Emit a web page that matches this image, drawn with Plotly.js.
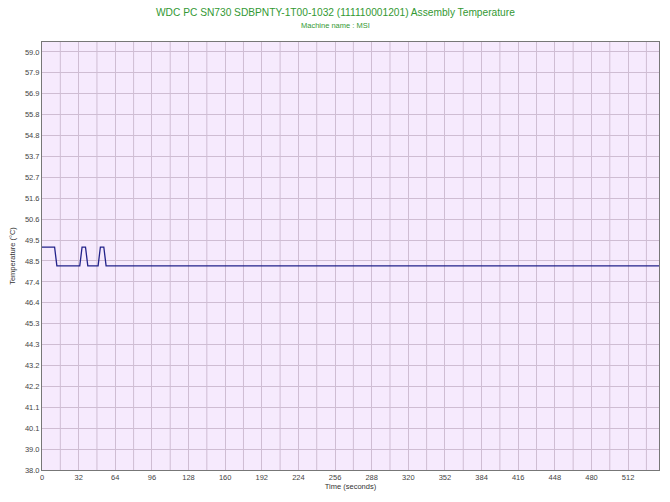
<!DOCTYPE html>
<html>
<head>
<meta charset="utf-8">
<script src="https://cdn.plot.ly/plotly-3.0.1.min.js"></script>
<style>html,body{margin:0;padding:0;background:#fff;}#chart{width:670px;height:502px;}</style>
</head>
<body>
<div id="chart"></div>
<script>
// Data
var timeSeconds = [0, 11, 13, 33, 35, 38, 40, 49, 51, 54, 56, 539];
var temperature = [49.2, 49.2, 48.25, 48.25, 49.2, 49.2, 48.25, 48.25, 49.2, 49.2, 48.25, 48.25];

var yTickVals = [38.0, 39.05, 40.1, 41.15, 42.2, 43.25, 44.3, 45.35, 46.4, 47.45, 48.5, 49.55, 50.6, 51.65, 52.7, 53.75, 54.8, 55.85, 56.9, 57.95, 59.0];
var yTickText = ["38.0","39.0","40.1","41.1","42.2","43.2","44.3","45.3","46.4","47.4","48.5","49.5","50.6","51.6","52.7","53.7","54.8","55.8","56.9","57.9","59.0"];
var xTickVals = [0, 32, 64, 96, 128, 160, 192, 224, 256, 288, 320, 352, 384, 416, 448, 480, 512];
var xGridVals = [16, 48, 80, 112, 144, 176, 208, 240, 272, 304, 336, 368, 400, 432, 464, 496, 528];

var titleText = "WDC PC SN730 SDBPNTY-1T00-1032 (111110001201) Assembly Temperature";
var subTitleText = "Machine name : MSI";

var trace = {
  x: timeSeconds, y: temperature, type: 'scatter', mode: 'lines',
  line: {color: '#22228a', width: 1.3}, hoverinfo: 'skip', showlegend: false
};

var gridColor = '#cfbdd3';
var shapes = xGridVals.map(function(v){
  return {type:'line', xref:'x', yref:'paper', x0:v, x1:v, y0:0, y1:1, layer:'below',
          line:{color:gridColor, width:1}};
});

var layout = {
  width: 670, height: 502,
  margin: {l: 42, r: 11, t: 42, b: 32},
  paper_bgcolor: '#ffffff',
  plot_bgcolor: '#f6eafd',
  font: {family: 'Liberation Sans, Arial, sans-serif', size: 8, color: '#444'},
  annotations: [
    {text: titleText, xref: 'paper', yref: 'paper', x: 0.4749, y: 1.0678, xanchor: 'center', yanchor: 'middle',
     showarrow: false, font: {family: 'Liberation Sans, Arial, sans-serif', size: 10.2, color: '#339933'}},
    {text: subTitleText, xref: 'paper', yref: 'paper', x: 0.4749, y: 1.0397, xanchor: 'center', yanchor: 'middle',
     showarrow: false, font: {family: 'Liberation Sans, Arial, sans-serif', size: 7.5, color: '#339933'}}
  ],
  xaxis: {
    range: [0, 539], tickmode: 'array', tickvals: xTickVals, ticktext: xTickVals.map(String),
    showgrid: true, gridcolor: gridColor, gridwidth: 1, zeroline: false,
    showline: true, linecolor: '#777', linewidth: 1, mirror: true,
    ticks: '', ticklen: 0, tickfont: {size: 7.5, color: '#444'},
    title: {text: 'Time (seconds)', font: {size: 7.5, color: '#333'}, standoff: 2}
  },
  yaxis: {
    range: [38.0, 59.5], tickmode: 'array', tickvals: yTickVals, ticktext: yTickText,
    showgrid: true, gridcolor: gridColor, gridwidth: 1, zeroline: false,
    showline: true, linecolor: '#777', linewidth: 1, mirror: true,
    ticks: '', ticklen: 0, tickfont: {size: 7.5, color: '#444'},
    title: {text: 'Temperature (°C)', font: {size: 7.5, color: '#333'}, standoff: 8}
  },
  shapes: shapes
};

Plotly.newPlot('chart', [trace], layout, {displayModeBar: false, staticPlot: true});
</script>
</body>
</html>
